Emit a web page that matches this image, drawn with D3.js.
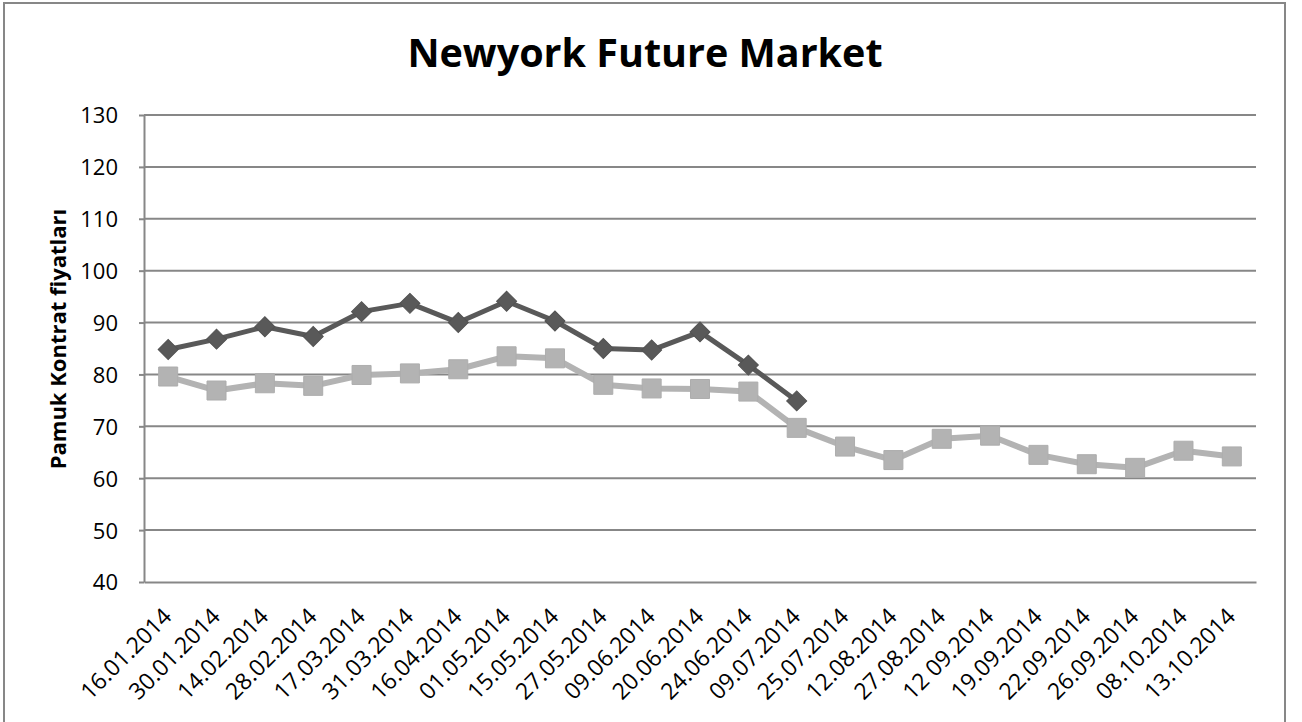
<!DOCTYPE html>
<html>
<head>
<meta charset="utf-8">
<style>
  body { margin: 0; background: #fff; }
  svg { display: block; font-family: "Open Sans", sans-serif; }
  .grid line { stroke: #878787; stroke-width: 2; }
  .axis path, .axis line { stroke: #878787; stroke-width: 2; }
  .axis text { fill: #000; font-size: 22px; font-family: "Open Sans", sans-serif; }
  .xaxis text { font-size: 23px; }
</style>
</head>
<body>
<svg id="chart" width="1302" height="722"></svg>
<script src="https://cdn.jsdelivr.net/npm/d3@7"></script>
<script>
// data
var dates = ["16.01.2014", "30.01.2014", "14.02.2014", "28.02.2014", "17.03.2014",
  "31.03.2014", "16.04.2014", "01.05.2014", "15.05.2014", "27.05.2014", "09.06.2014",
  "20.06.2014", "24.06.2014", "09.07.2014", "25.07.2014", "12.08.2014", "27.08.2014",
  "12 09.2014", "19.09.2014", "22.09.2014", "26.09.2014", "08.10.2014", "13.10.2014"];
var darkSeries = [84.8, 86.8, 89.2, 87.3, 92.1, 93.7, 90.0, 94.1, 90.3, 85.0, 84.7,
  88.2, 81.8, 74.9];
var lightSeries = [79.6, 76.9, 78.3, 77.8, 79.9, 80.2, 81.0, 83.5, 83.1, 78.0, 77.3,
  77.2, 76.7, 69.7, 66.1, 63.5, 67.6, 68.2, 64.5, 62.7, 62.0, 65.3, 64.2];
var yTicks = [40, 50, 60, 70, 80, 90, 100, 110, 120, 130];

var svg = d3.select("#chart");

var plotLeft = 144, plotRight = 1256, plotTop = 115, plotBottom = 582;

var x = d3.scaleBand().domain(dates).range([plotLeft, plotRight]);
var cx = function (d) { return x(d) + x.bandwidth() / 2; };
var y = d3.scaleLinear().domain([40, 130]).range([plotBottom, plotTop]);

// outer frame
svg.append("rect")
  .attr("x", 4).attr("y", 3)
  .attr("width", 1281).attr("height", 740)
  .attr("fill", "none")
  .attr("stroke", "#878787")
  .attr("stroke-width", 2);

// title
svg.append("text")
  .attr("x", 645).attr("y", 67)
  .attr("text-anchor", "middle")
  .attr("font-size", 39.5)
  .attr("font-weight", "bold")
  .text("Newyork Future Market");

// gridlines
svg.append("g")
  .attr("class", "grid")
  .selectAll("line")
  .data(yTicks.slice(1))
  .enter().append("line")
  .attr("x1", plotLeft).attr("x2", plotRight)
  .attr("y1", function (d) { return y(d); })
  .attr("y2", function (d) { return y(d); });

// y axis
var yAxis = svg.append("g")
  .attr("class", "axis")
  .attr("transform", "translate(" + plotLeft + ",0)")
  .call(d3.axisLeft(y).tickValues(yTicks).tickSize(5).tickPadding(21).tickSizeOuter(0));
yAxis.selectAll("text").attr("dy", "0.36em");

// x axis
var xAxis = svg.append("g")
  .attr("class", "axis xaxis")
  .attr("transform", "translate(0," + plotBottom + ")")
  .call(d3.axisBottom(x).tickSize(0).tickSizeOuter(0));
xAxis.selectAll("text")
  .attr("x", 0).attr("y", 0).attr("dy", 0)
  .attr("text-anchor", "end")
  .attr("transform", "translate(5,36) rotate(-45)");

// y axis title
svg.append("text")
  .attr("transform", "translate(66,339) rotate(-90)")
  .attr("text-anchor", "middle")
  .attr("font-size", 22)
  .attr("font-weight", "bold")
  .text("Pamuk Kontrat fiyatları");

// light series with squares
var lightPts = lightSeries.map(function (v, i) { return [cx(dates[i]), y(v)]; });
svg.append("path")
  .datum(lightPts)
  .attr("fill", "none")
  .attr("stroke", "#b3b3b3")
  .attr("stroke-width", 6)
  .attr("stroke-linejoin", "round")
  .attr("d", d3.line());
svg.append("g").selectAll("path")
  .data(lightPts)
  .enter().append("path")
  .attr("transform", function (d) { return "translate(" + d[0] + "," + d[1] + ")"; })
  .attr("d", d3.symbol(d3.symbolSquare, 19 * 19))
  .attr("fill", "#b3b3b3")
  .attr("stroke", "#adadad")
  .attr("stroke-width", 1);

// dark series with diamonds
var darkPts = darkSeries.map(function (v, i) { return [cx(dates[i]), y(v)]; });
svg.append("path")
  .datum(darkPts)
  .attr("fill", "none")
  .attr("stroke", "#595959")
  .attr("stroke-width", 5)
  .attr("stroke-linejoin", "round")
  .attr("d", d3.line());
svg.append("g").selectAll("path")
  .data(darkPts)
  .enter().append("path")
  .attr("transform", function (d) { return "translate(" + d[0] + "," + d[1] + ") rotate(45)"; })
  .attr("d", d3.symbol(d3.symbolSquare, 200))
  .attr("fill", "#595959")
  .attr("stroke", "#525252")
  .attr("stroke-width", 1);
</script>
</body>
</html>
